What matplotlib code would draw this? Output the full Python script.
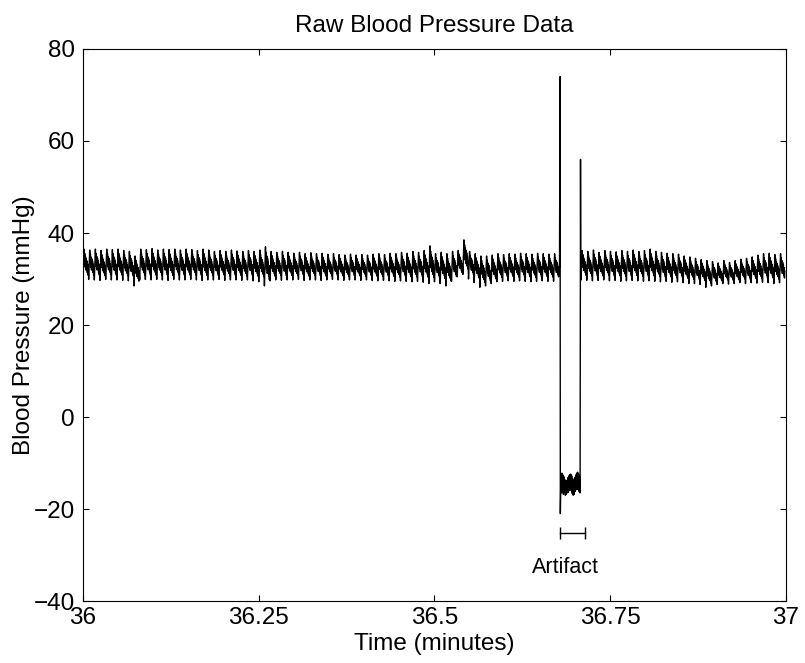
"""Raw blood pressure trace, 36-37 min, with the transducer artifact marked."""
import numpy as np
import matplotlib

matplotlib.use("Agg")
import matplotlib.pyplot as plt  # noqa: E402

plt.rcParams["font.family"] = ["Liberation Sans", "DejaVu Sans"]

HEART_RATE = 124          # beats per minute, counted off the trace
T_START = 36.0            # first beat
T_RESUME = 36.7085        # first beat after the artifact

# one beat sampled 16 times, 0 = diastolic trough, 1 = systolic peak
pulse_shape = [0.0, 0.35, 0.80, 1.0, 0.62, 0.86, 0.42, 0.76, 0.32, 0.70,
               0.36, 0.62, 0.24, 0.52, 0.16, 0.40]

# per-beat peaks / troughs (mmHg) before the artifact, 84 beats
pre_peaks = [
    36.5, 36.3, 36.5, 36.2, 36.5, 36.4, 36.5, 36.2, 36.0, 35.0,
    36.5, 36.4, 36.6, 36.3, 36.5, 36.4, 36.5, 36.3, 36.5, 36.4,
    36.2, 36.5, 36.3, 36.0, 36.2, 36.0, 36.3, 36.1, 36.0, 36.2,
    36.0, 36.3, 37.0, 36.0, 35.8, 36.0, 35.8, 35.6, 35.8, 35.5,
    35.7, 35.5, 35.6, 35.4, 35.5, 35.3, 35.2, 35.4, 35.2, 35.3,
    35.2, 35.4, 35.5, 35.3, 35.6, 35.5, 35.8, 35.6, 36.0, 35.8,
    36.2, 37.2, 35.5, 35.8, 35.5, 36.0, 36.2, 38.5, 36.0, 35.5,
    35.0, 35.0, 35.2, 35.5, 35.3, 35.5, 35.4, 35.6, 35.5, 35.4,
    35.6, 35.5, 35.4, 35.5,
]
pre_troughs = [
    29.8, 29.9, 29.8, 29.7, 29.9, 29.8, 29.8, 29.7, 29.6, 28.5,
    29.8, 29.9, 29.8, 29.9, 29.8, 29.7, 29.9, 29.8, 29.8, 29.9,
    29.8, 29.7, 29.8, 29.8, 29.9, 29.7, 29.8, 29.8, 29.7, 29.8,
    29.6, 29.4, 28.5, 29.6, 29.8, 29.7, 29.8, 29.8, 29.9, 29.7,
    29.8, 29.8, 29.7, 29.8, 29.9, 29.8, 29.7, 29.8, 29.8, 29.7,
    29.8, 29.7, 29.6, 29.7, 29.6, 29.5, 29.6, 29.5, 29.4, 29.5,
    29.3, 29.0, 29.4, 29.0, 28.5, 29.5, 30.5, 31.0, 30.0, 29.2,
    28.2, 28.5, 29.0, 29.4, 29.5, 29.6, 29.5, 29.6, 29.5, 29.4,
    29.5, 29.6, 29.5, 29.5,
]

# per-beat peaks / troughs after the artifact, 36 beats
post_peaks = [
    36.2, 36.0, 36.3, 35.8, 36.2, 36.0, 35.9, 36.2, 36.0, 36.3,
    36.0, 36.2, 36.5, 36.0, 35.8, 35.6, 35.5, 35.4, 35.0, 34.8,
    34.5, 34.2, 34.0, 33.8, 33.5, 34.0, 33.6, 34.0, 34.3, 34.5,
    34.8, 35.2, 35.5, 35.6, 35.3, 35.5,
]
post_troughs = [
    29.8, 29.7, 29.6, 29.7, 29.8, 29.6, 29.7, 29.5, 29.6, 29.7,
    29.6, 29.5, 29.6, 29.5, 29.4, 29.5, 29.3, 29.4, 29.2, 29.0,
    29.0, 28.8, 28.2, 28.5, 28.8, 29.0, 28.9, 29.0, 29.2, 29.0,
    29.2, 29.1, 29.3, 29.2, 29.0, 29.2,
]

# the artifact itself: spike up, flush to ~ -14 mmHg, spike, recovery
artifact_t = [
    36.6778, 36.6786, 36.6790, 36.6798,
    36.6805, 36.6812, 36.6819, 36.6826, 36.6833, 36.6840, 36.6847,
    36.6854, 36.6861, 36.6868, 36.6875, 36.6882, 36.6889, 36.6896,
    36.6903, 36.6910, 36.6917, 36.6924, 36.6931, 36.6938, 36.6945,
    36.6952, 36.6959, 36.6966, 36.6973, 36.6980, 36.6987, 36.6994,
    36.7001, 36.7008, 36.7015, 36.7022, 36.7029, 36.7036, 36.7043,
    36.7050, 36.7057, 36.7064, 36.7071,
    36.7077, 36.7081,
]
artifact_bp = [
    32.5, 74.0, -21.0, -13.0,
    -16.5, -12.2, -16.0, -12.6, -16.8, -13.0, -16.2, -13.6, -17.0,
    -14.0, -16.8, -13.8, -16.5, -13.2, -16.4, -12.8, -16.0, -12.5,
    -15.8, -12.4, -16.0, -12.8, -16.6, -13.4, -17.0, -13.8, -16.8,
    -13.2, -16.2, -12.6, -15.8, -12.2, -15.6, -12.0, -15.8, -12.4,
    -16.2, -13.0, -16.5,
    56.0, 33.0,
]

artifact_span = [36.678, 36.714]
artifact_bar_y = -25.2
artifact_label = "Artifact"
artifact_label_pos = (36.686, -32.8)

x_ticks = [36, 36.25, 36.5, 36.75, 37]
x_ticklabels = ["36", "36.25", "36.5", "36.75", "37"]
y_ticks = [-40, -20, 0, 20, 40, 60, 80]


def beat_train(t0, peaks, troughs):
    n = len(pulse_shape)
    dt = 1.0 / HEART_RATE
    ts, vs = [], []
    for i, (hi, lo) in enumerate(zip(peaks, troughs)):
        for k, s in enumerate(pulse_shape):
            ts.append(t0 + (i + k / n) * dt)
            vs.append(lo + s * (hi - lo))
    return ts, vs


pre_t, pre_v = beat_train(T_START, pre_peaks, pre_troughs)
post_t, post_v = beat_train(T_RESUME, post_peaks, post_troughs)
t = np.array(pre_t + artifact_t + post_t)
bp = np.array(pre_v + artifact_bp + post_v)

fig = plt.figure(figsize=(8.05, 6.63), dpi=100)
ax = fig.add_axes([0.1031, 0.0935, 0.8733, 0.8326])

ax.plot(t, bp, color="black", lw=1.0)

# artifact bracket + label
ax.plot(artifact_span, [artifact_bar_y] * 2, color="black", lw=1.0,
        marker="|", markersize=8, markeredgewidth=1.0)
ax.text(*artifact_label_pos, artifact_label, ha="center", va="center", fontsize=15.5)

ax.set_xlim(36, 37)
ax.set_ylim(-40, 80)
ax.set_xticks(x_ticks)
ax.set_xticklabels(x_ticklabels)
ax.set_yticks(y_ticks)
ax.tick_params(direction="in", top=True, right=True, length=4, width=0.8,
               labelsize=17.5)
ax.tick_params(axis="x", pad=4)
ax.tick_params(axis="y", pad=6)
for sp in ax.spines.values():
    sp.set_linewidth(0.8)

ax.set_xlabel("Time (minutes)", fontsize=17.5, labelpad=3)
ax.set_ylabel("Blood Pressure (mmHg)", fontsize=17.5, labelpad=-1)
ax.set_title("Raw Blood Pressure Data", fontsize=17.5, pad=12)

fig.savefig("out.png", dpi=100)
plt.close(fig)
